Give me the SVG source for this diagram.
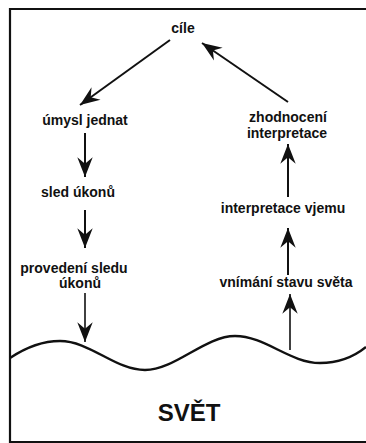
<svg xmlns="http://www.w3.org/2000/svg" width="366" height="443" viewBox="0 0 366 443">
  <style>
    .lbl { font-family: "Liberation Sans", Arial, sans-serif; font-weight: bold; font-size: 14px; fill: #111; text-anchor: middle; }
    .world { font-family: "Liberation Sans", Arial, sans-serif; font-weight: bold; font-size: 24px; fill: #111; text-anchor: middle; }
    .conn { stroke: #111; stroke-width: 2; fill: none; marker-end: url(#head); }
    .thin { stroke-width: 1.6; }
  </style>
  <defs>
    <marker id="head" markerUnits="userSpaceOnUse" markerWidth="22" markerHeight="18" viewBox="-19 -8 20 16" refX="0" refY="0" orient="auto">
      <path d="M0,0 L-18,-7 L-12,0 L-18,7 Z" fill="#111"/>
    </marker>
  </defs>
  <rect width="366" height="443" fill="#fff"/>

  <!-- frame -->
  <path d="M366,9 L10,9 L10,442 L366,442" stroke="#111" stroke-width="2.2" fill="none"/>

  <!-- surface of the world -->
  <path d="M10,358 C28,346 44,341 60,341 C90,341 115,370 145,370 C175,370 205,336 235,336 C265,336 290,363 320,363 C340,363 355,356 366,347" stroke="#111" stroke-width="2.4" fill="none"/>

  <g id="connectors">
    <line class="conn" x1="170" y1="40" x2="80" y2="105"/>
    <line class="conn" x1="288" y1="102" x2="202" y2="43"/>
    <line class="conn" x1="85" y1="133" x2="85" y2="177"/>
    <line class="conn" x1="85" y1="210" x2="85" y2="248"/>
    <line class="conn thin" x1="85" y1="293" x2="85" y2="342"/>
    <line class="conn thin" x1="290" y1="350" x2="290" y2="294"/>
    <line class="conn" x1="288" y1="275" x2="288" y2="228"/>
    <line class="conn" x1="288" y1="197" x2="288" y2="144"/>
  </g>

  <g id="goals"><text class="lbl" x="183" y="33">cíle</text></g>
  <g id="intention"><text class="lbl" x="85" y="125">úmysl jednat</text></g>
  <g id="sequence"><text class="lbl" x="78" y="197">sled úkonů</text></g>
  <g id="execution">
    <text class="lbl" x="74" y="273">provedení sledu</text>
    <text class="lbl" x="80" y="288">úkonů</text>
  </g>
  <g id="evaluation">
    <text class="lbl" x="288" y="122">zhodnocení</text>
    <text class="lbl" x="287" y="138">interpretace</text>
  </g>
  <g id="interpretation"><text class="lbl" x="283" y="213">interpretace vjemu</text></g>
  <g id="perception"><text class="lbl" x="286" y="287">vnímání stavu světa</text></g>
  <g id="world"><text class="world" x="189" y="421">SVĚT</text></g>
</svg>
